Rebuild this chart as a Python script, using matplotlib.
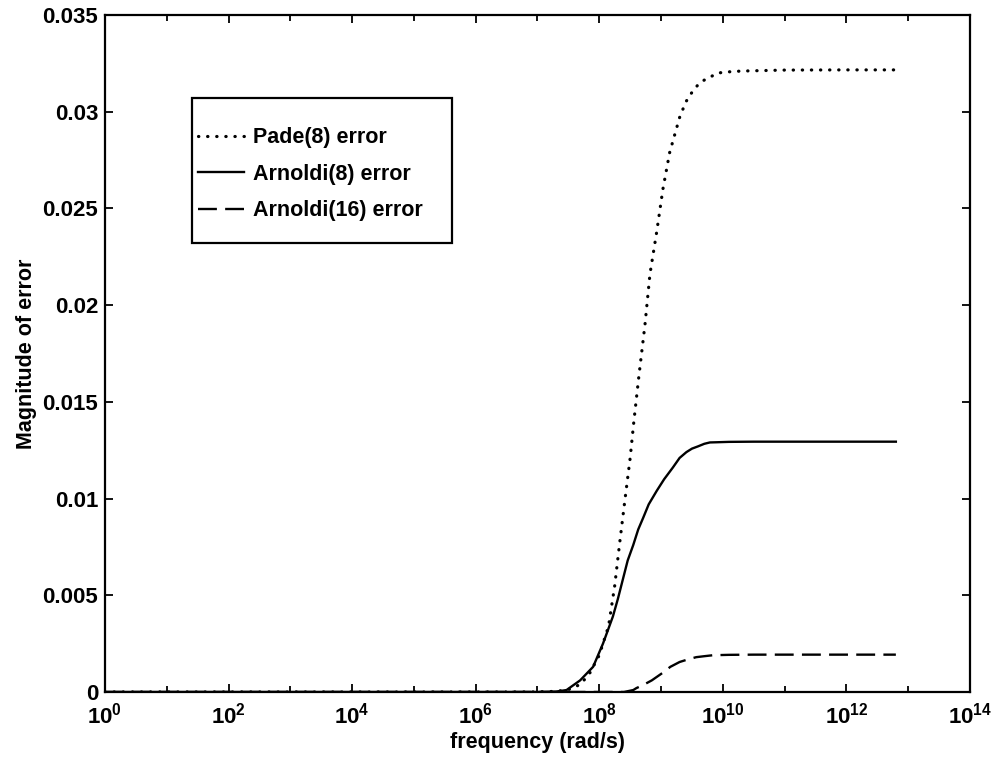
import numpy as np
import matplotlib
matplotlib.use('Agg')
import matplotlib.pyplot as plt
from matplotlib.patches import Rectangle
from matplotlib.ticker import FixedLocator, LogFormatterMathtext, NullFormatter

plt.rcParams['font.family'] = ['Liberation Sans', 'DejaVu Sans']
plt.rcParams['font.weight'] = 'bold'
plt.rcParams['mathtext.default'] = 'bf'

# log10 of frequency (rad/s) and error magnitude
pade_logf = [0, 6.9, 7.3, 7.5, 7.7, 7.85, 8.0, 8.15, 8.25, 8.33, 8.41, 8.5, 8.56,
             8.64, 8.74, 8.82, 8.93, 9.03, 9.14, 9.3, 9.4, 9.5, 9.6, 9.68, 9.8, 9.92,
             10.1, 10.3, 11.0, 12.0, 12.8]
pade_err = [0, 0, 0.00003, 0.00012, 0.0004, 0.001, 0.0019, 0.0034, 0.0055, 0.0077, 0.0098,
            0.0121, 0.014, 0.0163, 0.019, 0.0216, 0.0238, 0.026, 0.0279, 0.0297, 0.0305,
            0.031, 0.0314, 0.0316, 0.0318, 0.032, 0.03206, 0.0321, 0.03215, 0.03216, 0.03216]

arn8_logf = [0, 7.0, 7.3, 7.47, 7.69, 7.9, 8.06, 8.22, 8.3, 8.38, 8.46, 8.55, 8.63,
             8.71, 8.8, 8.93, 9.05, 9.19, 9.3, 9.41, 9.5, 9.6, 9.7, 9.79, 9.9, 10.1,
             10.5, 12.8]
arn8_err = [0, 0, 0.00002, 0.0001, 0.0006, 0.0013, 0.0025, 0.0039, 0.0048, 0.0058, 0.0068,
            0.0076, 0.0084, 0.009, 0.0097, 0.0104, 0.011, 0.0116, 0.0121, 0.0124, 0.01258,
            0.0127, 0.01283, 0.0129, 0.01291, 0.01293, 0.01294, 0.01294]

arn16_logf = [0, 8.4, 8.55, 8.6, 8.71, 8.85, 9.03, 9.15, 9.3, 9.45, 9.57, 9.7, 9.84,
              10.1, 10.5, 12.8]
arn16_err = [0, 0, 0.0001, 0.0002, 0.00036, 0.0006, 0.001, 0.0013, 0.00155, 0.0017,
             0.0018, 0.00185, 0.0019, 0.00192, 0.00193, 0.00193]

labels = ['Pade(8) error', 'Arnoldi(8) error', 'Arnoldi(16) error']
yticks = [0, 0.005, 0.01, 0.015, 0.02, 0.025, 0.03, 0.035]

fig = plt.figure(figsize=(9.96, 7.59), dpi=100)
ax = fig.add_axes([0.1054, 0.0883, 0.8685, 0.892])

l1, = ax.plot(10 ** np.array(pade_logf), pade_err, color='black', lw=2.3,
              linestyle=(0, (0.1, 2.75)), dash_capstyle='round')
l2, = ax.plot(10 ** np.array(arn8_logf), arn8_err, color='black', lw=1.7)
l3, = ax.plot(10 ** np.array(arn16_logf), arn16_err, color='black', lw=1.7,
              dashes=(8, 3.5))

ax.set_xscale('log')
ax.set_xlim(1, 1e14)
ax.set_ylim(0, 0.035)
ax.xaxis.set_major_locator(FixedLocator([10.0 ** k for k in range(0, 15, 2)]))
ax.xaxis.set_major_formatter(LogFormatterMathtext())
ax.xaxis.set_minor_locator(FixedLocator([10.0 ** k for k in range(1, 14, 2)]))
ax.xaxis.set_minor_formatter(NullFormatter())
ax.set_yticks(yticks)
ax.set_yticklabels(['%g' % v for v in yticks])

ax.tick_params(which='both', direction='in', top=True, right=True, width=1.3,
               labelsize=16)
ax.tick_params(axis='y', pad=5)
ax.tick_params(axis='x', which='both', pad=8)
ax.tick_params(which='major', length=6)
ax.tick_params(which='minor', length=4)
for s in ax.spines.values():
    s.set_linewidth(1.6)

ax.set_xlabel('frequency (rad/s)', fontsize=15.5, fontweight='bold', labelpad=2)
ax.set_ylabel('Magnitude of error', fontsize=15.5, fontweight='bold', labelpad=4)

# legend box drawn by hand, entries inside it
ax.add_patch(Rectangle((0.1006, 0.663), 0.3006, 0.214, transform=ax.transAxes,
                       fill=False, edgecolor='black', lw=1.6, zorder=5))
ax.legend([l1, l2, l3], labels, loc='center left', bbox_to_anchor=(0.1006, 0.765),
          frameon=False, fontsize=15.5, handlelength=2.1, handletextpad=0.45,
          labelspacing=0.72, borderpad=0.3, borderaxespad=0)

fig.savefig('out.png', dpi=100)
